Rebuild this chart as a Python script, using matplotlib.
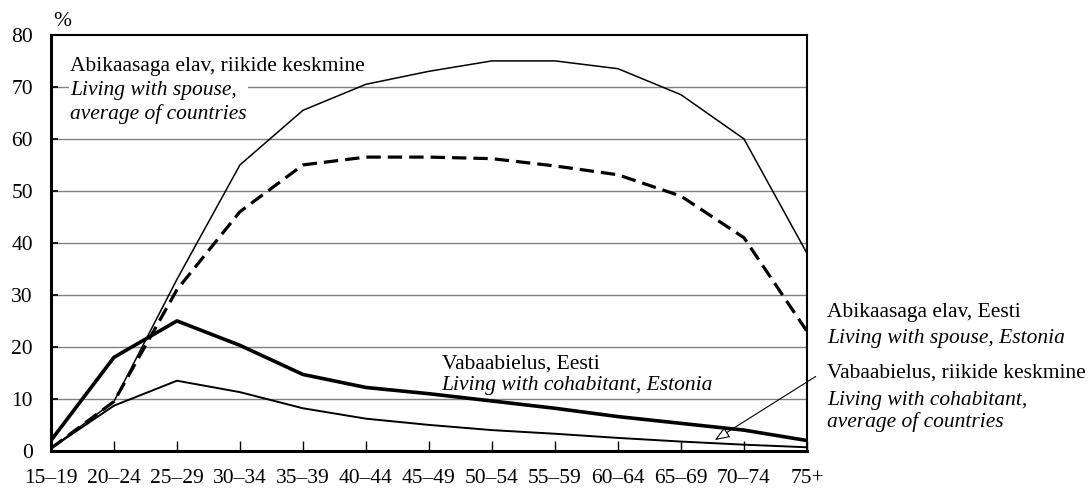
import matplotlib.pyplot as plt
import numpy as np

plt.rcParams['font.family'] = ['Liberation Serif', 'DejaVu Serif']

age_groups = ["15–19", "20–24", "25–29", "30–34", "35–39", "40–44", "45–49",
              "50–54", "55–59", "60–64", "65–69", "70–74", "75+"]

# abikaasaga elav, riikide keskmine
spouse_avg = [0.5, 9.5, 33, 55, 65.5, 70.5, 73, 75, 75, 73.5, 68.5, 60, 38]
# abikaasaga elav, Eesti
spouse_est = [0.5, 9.5, 31, 46, 55, 56.5, 56.5, 56.2, 54.8, 53.1, 49, 41, 23]
# vabaabielus, Eesti
cohab_est = [2, 18, 25, 20.3, 14.7, 12.2, 11, 9.6, 8.2, 6.6, 5.3, 4, 2]
# vabaabielus, riikide keskmine
cohab_avg = [0.5, 8.7, 13.5, 11.3, 8.2, 6.2, 5, 4, 3.3, 2.5, 1.8, 1.2, 0.7]

x = np.arange(len(age_groups))

fig = plt.figure(figsize=(10.89, 4.88), dpi=100)
ax = fig.add_axes([0.0468, 0.076, 0.6942, 0.8525])

for yv in range(10, 80, 10):
    ax.axhline(yv, color="#808080", lw=1.0, zorder=1)

ax.plot(x, spouse_avg, color="black", lw=1.1, zorder=3)
ax.plot(x, spouse_est, color="black", lw=2.3, dashes=(4.5, 2.2), zorder=3)
ax.plot(x, cohab_est, color="black", lw=2.6, zorder=3)
ax.plot(x, cohab_avg, color="black", lw=1.4, zorder=3)

fs = 15.5
ax.set_xlim(0, len(age_groups) - 1)
ax.set_ylim(0, 80)
ax.set_yticks(range(0, 90, 10))
ax.set_xticks(x)
ax.set_xticklabels(age_groups)
ax.tick_params(axis="y", direction="in", length=5, width=1.2, pad=13, labelsize=fs)
ax.tick_params(axis="x", direction="in", length=7, width=1.0, pad=13, labelsize=fs)

for side in ["left", "bottom"]:
    ax.spines[side].set_linewidth(2.2)
for side in ["top", "right"]:
    ax.spines[side].set_linewidth(1.5)

fig.text(0.057, 1 - 21 / 488, "%", fontsize=fs, ha="center", va="center")

ax.text(0.3, 74.0, "Abikaasaga elav, riikide keskmine", fontsize=fs, va="center", ha="left", zorder=4)
ax.text(0.3, 67.0, "Living with spouse,\naverage of countries", fontsize=fs, style="italic",
        va="center", ha="left", linespacing=1.3, zorder=4,
        bbox=dict(facecolor="white", edgecolor="none", pad=1))

ax.text(6.2, 16.8, "Vabaabielus, Eesti", fontsize=fs, va="center", ha="left", zorder=4)
ax.text(6.2, 12.5, "Living with cohabitant, Estonia", fontsize=fs, style="italic",
        va="center", ha="left", zorder=4)

fig.text(0.7595, 1 - 313 / 488, "Abikaasaga elav, Eesti", fontsize=fs, va="center", ha="left")
fig.text(0.7595, 1 - 338 / 488, "Living with spouse, Estonia", fontsize=fs, style="italic",
         va="center", ha="left")
fig.text(0.7595, 1 - 373 / 488, "Vabaabielus, riikide keskmine", fontsize=fs, va="center", ha="left")
fig.text(0.7595, 1 - 411.5 / 488, "Living with cohabitant,\naverage of countries", fontsize=fs,
         style="italic", va="center", ha="left", linespacing=1.2)

ax.annotate("", xy=(10.5, 1.8), xycoords="data",
            xytext=(818 / 1089, 1 - 375 / 488), textcoords="figure fraction",
            arrowprops=dict(arrowstyle="-|>,head_length=0.9,head_width=0.35",
                            facecolor="white", edgecolor="black", lw=0.8),
            annotation_clip=False, zorder=5)

fig.savefig("out.png", dpi=100)
